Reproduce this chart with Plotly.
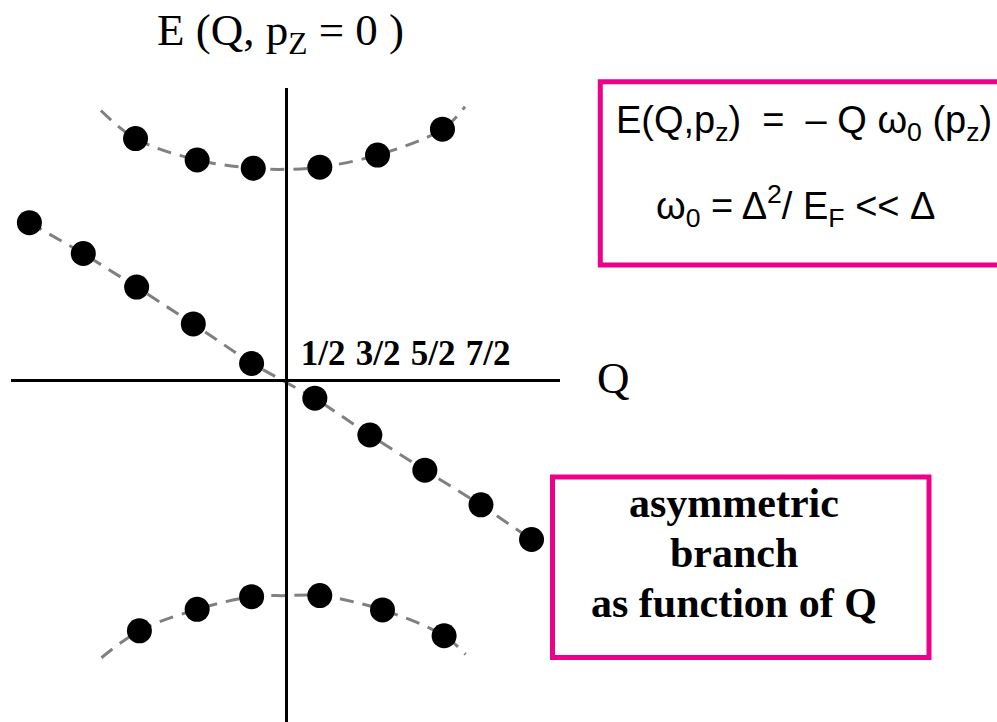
import plotly.graph_objects as go

# ---- data: energy levels E(Q, p_z = 0) versus Q ----
asym_q = [-4.66, -3.68, -2.71, -1.68, -0.62, 0.53, 1.53, 2.53, 3.55, 4.47]
asym_e = [2.86, 2.30, 1.69, 1.02, 0.30, -0.33, -1.00, -1.64, -2.27, -2.90]

upper_q = [-2.73, -1.61, -0.59, 0.62, 1.67, 2.85]
upper_e = [4.39, 4.00, 3.85, 3.87, 4.09, 4.56]

lower_q = [-2.66, -1.61, -0.62, 0.62, 1.76, 2.88]
lower_e = [-4.56, -4.17, -3.94, -3.92, -4.18, -4.65]

# dashed guide curves through the gapped branches
upper_guide_q = [-3.36, -2.73, -1.61, -0.59, 0.0, 0.62, 1.67, 2.85, 3.26]
upper_guide_e = [4.90, 4.39, 4.00, 3.85, 3.83, 3.87, 4.09, 4.56, 4.97]
lower_guide_q = [-3.35, -2.66, -1.61, -0.62, 0.0, 0.62, 1.76, 2.88, 3.27]
lower_guide_e = [-5.05, -4.56, -4.17, -3.94, -3.92, -3.92, -4.18, -4.65, -4.99]

tick_vals = [0.5, 1.5, 2.5, 3.5]
tick_text = ["1/2", "3/2", "5/2", "7/2"]

W, H = 997, 722
MAGENTA = "#EC008C"
GUIDE = "#808080"
SERIF = "Liberation Serif, Times New Roman, serif"
SANS = "Liberation Sans, Arial, sans-serif"


def fx(x):
    return x / W


def fy(y):
    return 1 - y / H


fig = go.Figure()

guide_line = dict(color=GUIDE, width=3, dash="14px,9px", shape="spline", smoothing=1)
fig.add_trace(go.Scatter(x=upper_guide_q, y=upper_guide_e, mode="lines",
                         line=guide_line, hoverinfo="skip", cliponaxis=False))
fig.add_trace(go.Scatter(x=lower_guide_q, y=lower_guide_e, mode="lines",
                         line=guide_line, hoverinfo="skip", cliponaxis=False))

dot = dict(color="black", size=25)
fig.add_trace(go.Scatter(x=asym_q, y=asym_e, mode="lines+markers",
                         line=dict(color=GUIDE, width=3, dash="14px,9px"),
                         marker=dot, cliponaxis=False))
fig.add_trace(go.Scatter(x=upper_q, y=upper_e, mode="markers", marker=dot,
                         cliponaxis=False))
fig.add_trace(go.Scatter(x=lower_q, y=lower_e, mode="markers", marker=dot,
                         cliponaxis=False))

# axis crossing sits at pixel (285.7, 380); 55 px per unit on both axes
fig.update_layout(
    width=W, height=H,
    margin=dict(l=0, r=0, t=0, b=0),
    paper_bgcolor="white", plot_bgcolor="white",
    showlegend=False,
    xaxis=dict(
        domain=[10.7 / W, 560 / W],
        range=[(10.7 - 285.7) / 55, (560 - 285.7) / 55],
        anchor="free", position=fy(380),
        side="top",
        showline=True, linecolor="black", linewidth=3,
        showgrid=False, zeroline=False, ticks="",
        tickmode="array", tickvals=tick_vals, ticktext=tick_text,
        tickfont=dict(family=SERIF, size=35, color="black", weight="bold"),
        ticklabelshift=10, ticklabelstandoff=0,
    ),
    yaxis=dict(
        domain=[0, (H - 88) / H],
        range=[(380 - 722) / 55, (380 - 88) / 55],
        anchor="free", position=fx(285.7),
        showline=True, linecolor="black", linewidth=3,
        showgrid=False, zeroline=False, ticks="", showticklabels=False,
    ),
)

annotations = [
    dict(text="E (Q, p<sub>Z</sub> = 0 )", x=fx(280), y=fy(33),
         font=dict(family=SERIF, size=45, color="black")),
    dict(text="Q", x=fx(613), y=fy(378),
         font=dict(family=SERIF, size=45, color="black")),
    dict(text="E(Q,p<sub>z</sub>)\u00a0\u00a0=\u00a0\u00a0\u2013 Q \u03c9<sub>0</sub> (p<sub>z</sub>)",
         x=fx(804), y=fy(123),
         font=dict(family=SANS, size=38, color="black")),
    dict(text="\u03c9<sub>0</sub> = \u0394<sup>2</sup>/ E<sub>F</sub> &lt;&lt; \u0394",
         x=fx(795), y=fy(206),
         font=dict(family=SANS, size=38, color="black")),
]
for line, base in zip(["asymmetric", "branch", "as function of Q"], [517, 567, 617]):
    annotations.append(dict(text=line, x=fx(734), y=fy(base - 14),
                            font=dict(family=SERIF, size=42, color="black", weight="bold")))

for a in annotations:
    a.update(xref="paper", yref="paper", showarrow=False,
             xanchor="center", yanchor="middle")
fig.update_layout(annotations=annotations)

box = dict(type="rect", xref="paper", yref="paper",
           line=dict(color=MAGENTA, width=5), fillcolor="rgba(0,0,0,0)")
fig.update_layout(shapes=[
    dict(box, x0=fx(600.3), x1=fx(1010), y0=fy(265), y1=fy(81.7)),
    dict(box, x0=fx(552.5), x1=fx(929), y0=fy(657.5), y1=fy(477)),
])

fig.write_html("out.html")
